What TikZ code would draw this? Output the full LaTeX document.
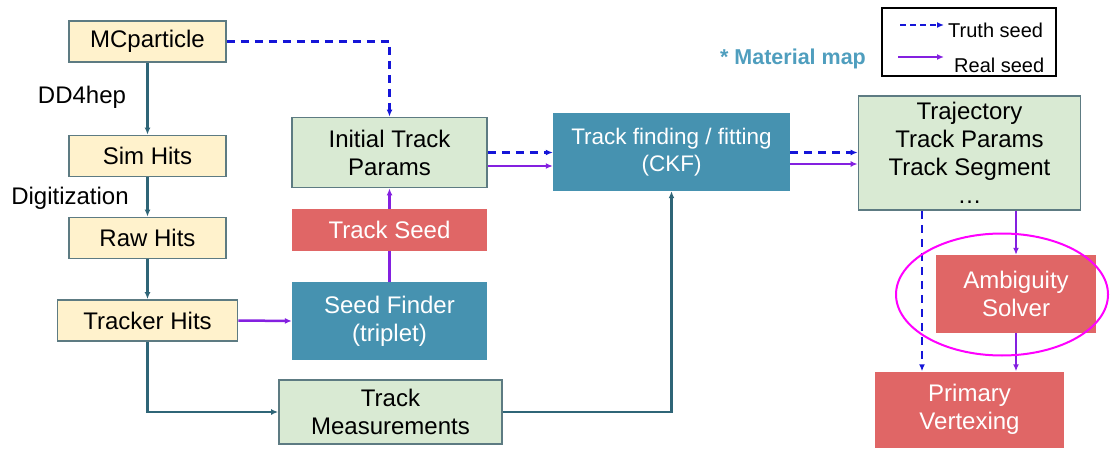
\documentclass[tikz,border=0pt]{standalone}
\usepackage{fontspec}
\setmainfont{Liberation Sans}
\usetikzlibrary{arrows.meta,positioning}

\definecolor{hityellow}{HTML}{FFF2CC}
\definecolor{stepgreen}{HTML}{D9EAD3}
\definecolor{algoteal}{HTML}{4692B0}
\definecolor{outred}{HTML}{E06666}
\definecolor{boxline}{HTML}{5D7B82}
\definecolor{flowline}{HTML}{2F6577}
\definecolor{truthblue}{HTML}{1515D8}
\definecolor{realpurple}{HTML}{8420E0}
\definecolor{mapteal}{HTML}{4F9EBE}
\definecolor{ringpink}{HTML}{FF00FF}

\begin{document}
\begin{tikzpicture}[x=1pt,y=-1pt,
    every node/.style={inner sep=0pt,align=center,font=\fontsize{24}{28}\selectfont},
    hitbox/.style={draw=boxline,fill=hityellow,line width=1.8pt,minimum width=157pt,minimum height=41pt},
    stepbox/.style={draw=boxline,fill=stepgreen,line width=1.8pt},
    algobox/.style={fill=algoteal,text=white},
    outbox/.style={fill=outred,text=white},
    flow/.style={flowline,line width=2.5pt,-{Latex[length=7pt,width=6pt]}},
    truth/.style={truthblue,line width=2.5pt,dash pattern=on 8pt off 6pt,-{Latex[length=7pt,width=6pt]}},
    real/.style={realpurple,line width=2.5pt,-{Latex[length=7pt,width=6pt]}}]

    \useasboundingbox (0,0) rectangle (1110,449);

    %hits chain
    \node[hitbox] (mc) at (147.5,41.5) {MCparticle};
    \node[hitbox] (sim) at (147.5,156) {Sim Hits};
    \node[hitbox] (raw) at (147.5,238) {Raw Hits};
    \node[hitbox,minimum width=180pt] (th) at (147.5,320.5) {Tracker Hits};
    \node (dd) at (82,97) {DD4hep};
    \node (digi) at (70,198) {Digitization};
    \draw[flow] (mc) -- (sim);
    \draw[flow] (sim) -- (raw);
    \draw[flow] (raw) -- (th);

    %seeding
    \node[stepbox,minimum width=195pt,minimum height=70pt] (ini) at (389.5,152.5) {Initial Track\\Params};
    \node[outbox,minimum width=195pt,minimum height=42pt] (seed) at (389.5,230) {Track Seed};
    \node[algobox,minimum width=195pt,minimum height=78pt] (sf) at (389.5,321) {Seed Finder\\(triplet)};
    \node[stepbox,minimum width=223pt,minimum height=64pt] (tm) at (390.5,412) {Track\\Measurements};
    \draw[real] (th.east) -- (sf.west);
    \draw[realpurple,line width=2.5pt] (sf) -- (seed);
    \draw[real] (seed) -- (ini);
    \draw[truth] (mc.east) -| (ini.north);
    \draw[flow] (th.south) |- (tm.west);

    %CKF
    \node[algobox,minimum width=237pt,minimum height=78pt,font=\fontsize{22.5}{27}\selectfont] (ckf) at (671.5,152) {Track finding / fitting\\(CKF)};
    \node[font=\fontsize{21.5}{26}\selectfont\bfseries,text=mapteal] (matmap) at (793,59) {* Material map};
    \draw[truth] (ini.east) -- (ini.east -| ckf.west);
    \draw[real] ([yshift=-13.5pt]ini.east) -- ([yshift=-13.5pt]ini.east -| ckf.west);
    \draw[flow] (tm.east) -| (ckf.south);

    %outputs
    \node[stepbox,minimum width=222pt,minimum height=114pt] (traj) at (969.5,153) {Trajectory\\Track Params\\Track Segment\\\dots};
    \node[outbox,minimum width=160pt,minimum height=78pt] (amb) at (1016,294) {Ambiguity\\Solver};
    \node[outbox,minimum width=189pt,minimum height=76pt] (pv) at (969.5,409.5) {Primary\\Vertexing};
    \draw[truth] ([yshift=-0.5pt]ckf.east) -- ([yshift=-0.5pt]ckf.east -| traj.west);
    \draw[real] ([yshift=-12pt]ckf.east) -- ([yshift=-12pt]ckf.east -| traj.west);
    \draw[truth] ([xshift=-47.5pt]traj.south) -- ([xshift=-47.5pt]traj.south |- pv.north);
    \draw[real] (traj.south -| amb.north) -- (amb.north);
    \draw[real] (amb.south) -- (amb.south |- pv.north);
    \draw[ringpink,line width=2pt] (1002,294.5) ellipse [x radius=106,y radius=61];

    %legend
    \node[draw,line width=1.5pt,minimum width=174pt,minimum height=68pt] (legend) at (969,42) {};
    \coordinate (ta) at (900,25);
    \coordinate (tb) at (944,25);
    \coordinate (ra) at (898,57);
    \coordinate (rb) at (944,57);
    \draw[truth,line width=2pt,dash pattern=on 6pt off 4pt] (ta) -- (tb);
    \draw[real,line width=2pt] (ra) -- (rb);
    \node[anchor=west,font=\fontsize{20}{24}\selectfont] (ttxt) at (948,30) {Truth seed};
    \node[anchor=west,font=\fontsize{20}{24}\selectfont] (rtxt) at (954,65) {Real seed};

\end{tikzpicture}
\end{document}
